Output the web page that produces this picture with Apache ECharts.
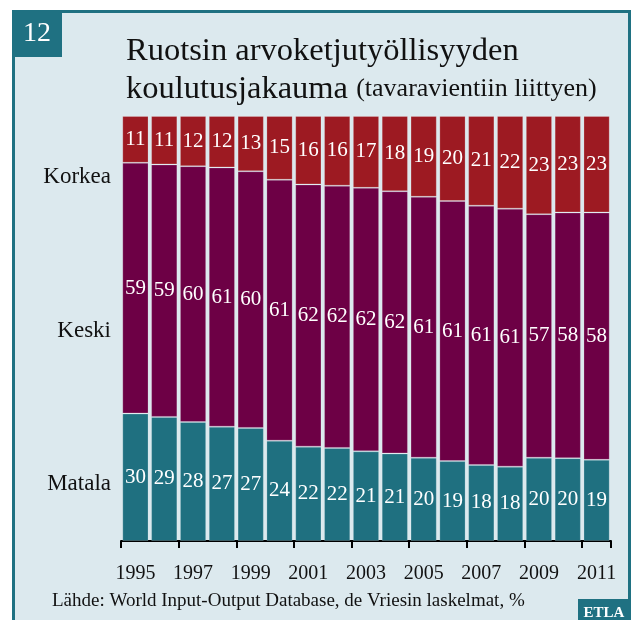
<!DOCTYPE html>
<html>
<head>
<meta charset="utf-8">
<script src="https://cdn.jsdelivr.net/npm/echarts@6/dist/echarts.min.js"></script>
<style>
  html, body { margin: 0; padding: 0; background: #ffffff; }
  #chart { width: 631px; height: 620px; }
</style>
</head>
<body>
<div id="chart"></div>
<script>
    // vuodet
    var years = ['1995', '1996', '1997', '1998', '1999', '2000', '2001', '2002', '2003',
        '2004', '2005', '2006', '2007', '2008', '2009', '2010', '2011'];
    // osuudet %, luettu kuvasta
    var matala = [30.0, 29.2, 28.0, 26.9, 26.6, 23.6, 22.2, 21.9, 21.1, 20.6, 19.6, 18.8, 17.9, 17.5, 19.6, 19.5, 19.1];
    var keski = [59.0, 59.4, 60.2, 61.0, 60.4, 61.4, 61.7, 61.7, 62.0, 61.7, 61.4, 61.2, 61.0, 60.7, 57.3, 57.8, 58.2];
    var korkea = [11.0, 11.4, 11.8, 12.1, 13.0, 15.0, 16.1, 16.4, 16.9, 17.7, 19.0, 20.0, 21.1, 21.8, 23.1, 22.7, 22.7];

    var serif = '"Liberation Serif", "DejaVu Serif", serif';
    var teal = '#1f7182';

    function barSeries(name, data, color) {
        return {
            name: name,
            type: 'bar',
            stack: 'all',
            barCategoryGap: '9%',
            data: data,
            itemStyle: {
                color: color,
                borderColor: 'rgba(255,255,255,0.2)',
                borderWidth: 1
            },
            label: {
                show: true,
                position: 'inside',
                color: '#ffffff',
                fontFamily: serif,
                fontSize: 21,
                formatter: function (p) {
                    return Math.round(p.value);
                }
            }
        };
    }

    var myEchart = echarts.init(document.getElementById('chart'));
    var option = {
        backgroundColor: '#ffffff',
        animation: false,
        title: {
            left: 121,
            top: 27,
            text: 'Ruotsin arvoketjutyöllisyyden\nkoulutusjakauma {b|(tavaravientiin liittyen)}',
            textStyle: {
                fontFamily: serif,
                fontWeight: 'normal',
                fontSize: 32.5,
                lineHeight: 38,
                color: '#111111',
                rich: {
                    b: { fontFamily: serif, fontSize: 26, color: '#111111' }
                }
            }
        },
        grid: {
            left: 121,
            right: 20,
            top: 116,
            bottom: 79
        },
        xAxis: {
            type: 'category',
            data: years,
            axisLine: { lineStyle: { color: '#000000', width: 2 } },
            axisTick: { show: true, length: 7, lineStyle: { color: '#000000', width: 2 } },
            axisLabel: {
                interval: 1,
                margin: 23,
                color: '#111111',
                fontFamily: serif,
                fontSize: 20
            }
        },
        yAxis: {
            type: 'value',
            min: 0,
            max: 100,
            show: false
        },
        series: [
            barSeries('Matala', matala, '#1f7080'),
            barSeries('Keski', keski, '#6d0045'),
            barSeries('Korkea', korkea, '#9d1a22')
        ],
        graphic: [
            {
                type: 'rect', z: -10, silent: true,
                shape: { x: 13.5, y: 11.5, width: 616, height: 620 },
                style: { fill: '#dce9ee', stroke: teal, lineWidth: 3 }
            },
            {
                type: 'rect', z: -5, silent: true,
                shape: { x: 12, y: 10, width: 50, height: 47 },
                style: { fill: teal }
            },
            {
                type: 'text', z: 10, silent: true, x: 37, y: 34,
                style: { text: '12', fill: '#ffffff', font: '28px ' + serif, align: 'center', verticalAlign: 'middle' }
            },
            {
                type: 'text', silent: true, x: 111, y: 177,
                style: { text: 'Korkea', fill: '#111111', font: '23px ' + serif, align: 'right', verticalAlign: 'middle' }
            },
            {
                type: 'text', silent: true, x: 111, y: 331,
                style: { text: 'Keski', fill: '#111111', font: '23px ' + serif, align: 'right', verticalAlign: 'middle' }
            },
            {
                type: 'text', silent: true, x: 111, y: 484,
                style: { text: 'Matala', fill: '#111111', font: '23px ' + serif, align: 'right', verticalAlign: 'middle' }
            },
            {
                type: 'text', silent: true, x: 52, y: 601,
                style: { text: 'Lähde: World Input-Output Database, de Vriesin laskelmat, %', fill: '#111111', font: '19px ' + serif, verticalAlign: 'middle' }
            },
            {
                type: 'rect', silent: true,
                shape: { x: 578, y: 599, width: 53, height: 21 },
                style: { fill: teal }
            },
            {
                type: 'text', silent: true, x: 604, y: 613,
                style: { text: 'ETLA', fill: '#ffffff', font: 'bold 15px ' + serif, align: 'center', verticalAlign: 'middle' }
            }
        ]
    };
    myEchart.setOption(option, true);
</script>
</body>
</html>
